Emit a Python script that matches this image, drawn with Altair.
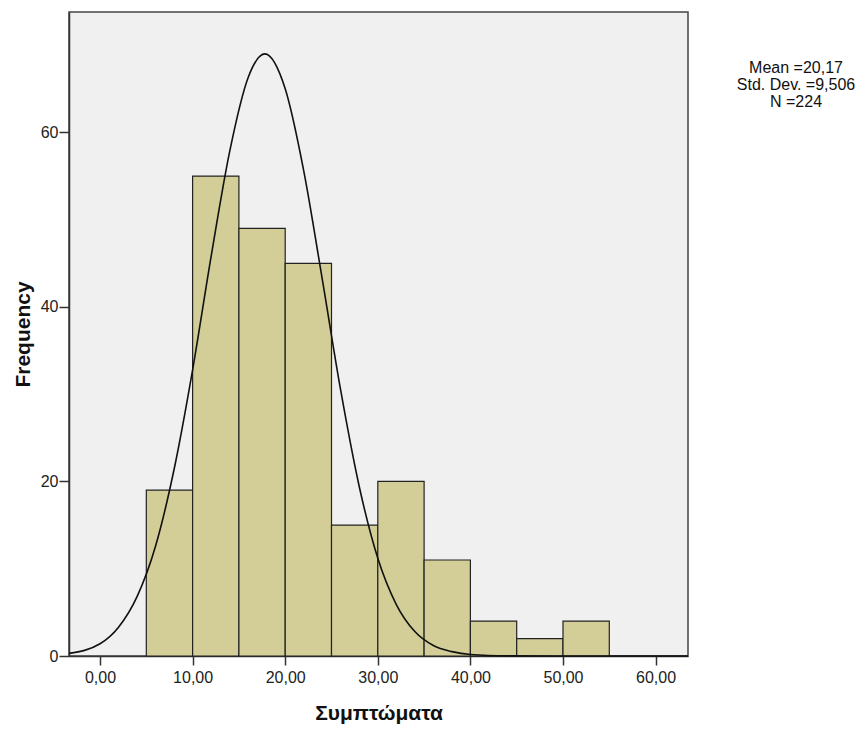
import altair as alt
import pandas as pd

# Histogram bins (lower, upper) and frequencies
bin_start = [5, 10, 15, 20, 25, 30, 35, 40, 45, 50]
bin_end = [10, 15, 20, 25, 30, 35, 40, 45, 50, 55]
freq = [19, 55, 49, 45, 15, 20, 11, 4, 2, 4]

# Normal curve, points
curve_x = [-3.35, 0, 2, 4, 6, 8, 10, 12, 14, 16, 17.8, 20, 22, 24, 26, 28, 30, 32, 34, 36, 38, 40, 44, 50, 63.5]
curve_y = [0.3, 1.4, 3.3, 6.8, 12.6, 21.4, 32.8, 45.8, 57.8, 66.3, 69.0, 65.0, 55.6, 43.2, 30.4, 19.4, 11.2, 5.9, 2.8, 1.2, 0.5, 0.17, 0.02, 0.0, 0.0]

stats_text = ["Mean =20,17", "Std. Dev. =9,506", "N =224"]

bars_df = pd.DataFrame({"start": bin_start, "end": bin_end, "freq": freq})
curve_df = pd.DataFrame({"x": curve_x, "y": curve_y})
stats_df = pd.DataFrame({"txt": ["\n".join(stats_text)]})

FONT = "Liberation Sans"
xscale = alt.Scale(domain=[-3.35, 63.5], nice=False, zero=False)
yscale = alt.Scale(domain=[0, 73.8], nice=False)

xaxis = alt.Axis(
    values=[0, 10, 20, 30, 40, 50, 60],
    labelExpr="replace(format(datum.value, '.2f'), '.', ',')",
    title="Συμπτώματα", grid=False, tickSize=9, tickWidth=1.5,
    tickColor="#333333", domainColor="#333333", domainWidth=1.5,
    labelFontSize=16, labelColor="#222222", labelFont=FONT, labelPadding=4,
    titleFont=FONT, titleFontSize=21, titleFontWeight="bold", titleColor="#111111",
    titlePadding=17,
)
yaxis = alt.Axis(
    values=[0, 20, 40, 60], title="Frequency", grid=False, tickSize=10, tickWidth=1.5,
    tickColor="#333333", domainColor="#333333", domainWidth=1.5,
    labelFontSize=16, labelColor="#222222", labelFont=FONT, labelPadding=1,
    titleFont=FONT, titleFontSize=21, titleFontWeight="bold", titleColor="#111111",
    titlePadding=7,
)

bars = alt.Chart(bars_df).mark_rect(
    fill="#D3CE97", stroke="#222222", strokeWidth=1.2
).encode(
    x=alt.X("start:Q", scale=xscale, axis=xaxis),
    x2="end:Q",
    y=alt.Y("freq:Q", scale=yscale, axis=yaxis),
    y2=alt.datum(0),
)

curve = alt.Chart(curve_df).mark_line(
    color="#111111", strokeWidth=1.6, interpolate="monotone"
).encode(
    x=alt.X("x:Q", scale=xscale),
    y=alt.Y("y:Q", scale=yscale),
)

stats = alt.Chart(stats_df).mark_text(
    font=FONT, fontSize=16, color="#111111", align="center", baseline="middle",
    lineBreak="\n", lineHeight=17
).encode(
    x=alt.value(727),
    y=alt.value(56),
    text="txt:N",
)

chart = alt.layer(bars, curve, stats).properties(
    width=619, height=644,
    autosize=alt.AutoSizeParams(type="none"),
    padding={"left": 69, "top": 12, "right": 172, "bottom": 73},
    background="white",
).configure_view(
    fill="#F0F0F0", stroke="#444444", strokeWidth=1.5
)

chart.save("out.html", embed_options={"renderer": "svg", "actions": False})
